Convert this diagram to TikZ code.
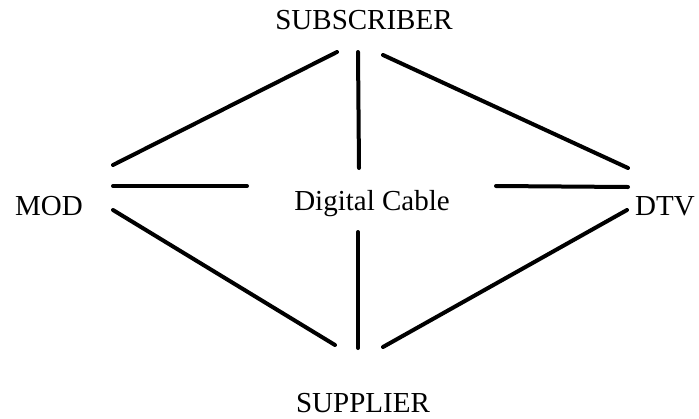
\documentclass[tikz,border=0pt]{standalone}
\usepackage{fontspec}
\setmainfont{Liberation Serif}
\begin{document}
\begin{tikzpicture}[x=1pt,y=-1pt,
  lbl/.style={inner sep=0pt,anchor=base,font=\fontsize{29}{34}\selectfont},
  link/.style={line width=4pt,line cap=round}]
\useasboundingbox (0,0) rectangle (699,418);
% labels
\node[lbl] (sub) at (364,29) {SUBSCRIBER};
\node[lbl] (sup) at (363,412) {SUPPLIER};
\node[lbl] (mod) at (49,215) {MOD};
\node[lbl] (dtv) at (665,215) {DTV};
\node[lbl] (dc)  at (372,210) {Digital Cable};
% line end points
\coordinate (s1) at (337,52);  \coordinate (s2) at (358,52);  \coordinate (s3) at (383,55);
\coordinate (m1) at (113,165); \coordinate (m2) at (113,186); \coordinate (m3) at (113,210);
\coordinate (d1) at (628,168); \coordinate (d2) at (628,187); \coordinate (d3) at (627,210);
\coordinate (c1) at (359,168); \coordinate (c2) at (247,186); \coordinate (c3) at (496,186); \coordinate (c4) at (358,232);
\coordinate (p1) at (335,345); \coordinate (p2) at (358,348); \coordinate (p3) at (383,347);
% connectors
\draw[link] (s1) -- (m1);
\draw[link] (s2) -- (c1);
\draw[link] (s3) -- (d1);
\draw[link] (m2) -- (c2);
\draw[link] (c3) -- (d2);
\draw[link] (m3) -- (p1);
\draw[link] (c4) -- (p2);
\draw[link] (d3) -- (p3);
\end{tikzpicture}
\end{document}
